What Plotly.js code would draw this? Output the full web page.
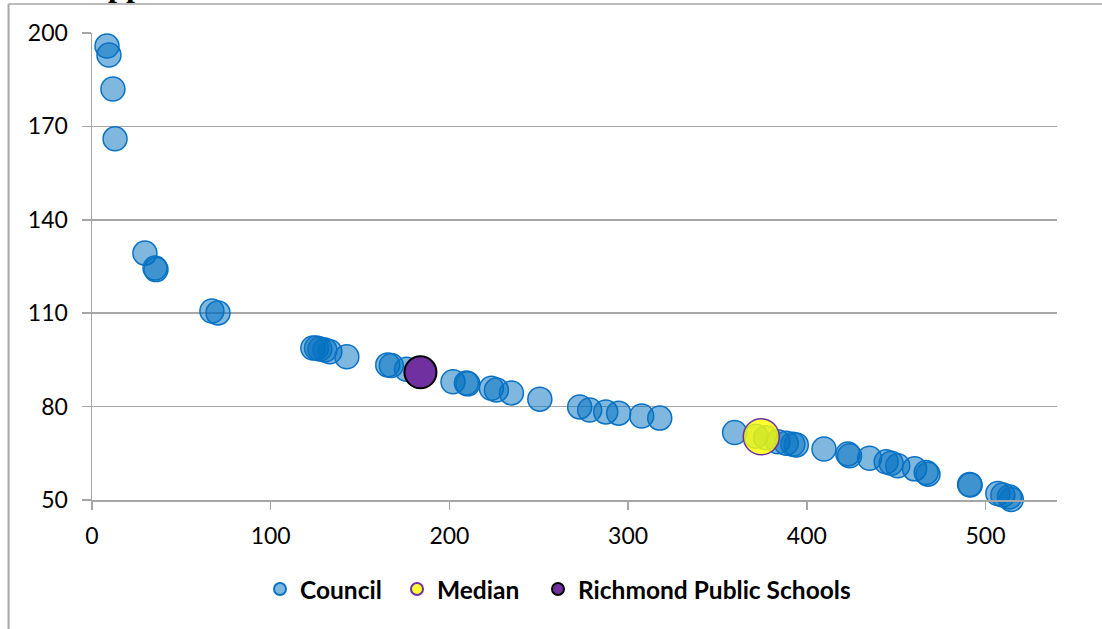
<!DOCTYPE html>
<html>
<head>
<meta charset="utf-8">
<script src="https://cdn.plot.ly/plotly-3.0.1.min.js"></script>
<style>html,body{margin:0;padding:0;background:#fff;}#chart{width:1102px;height:629px;}</style>
</head>
<body>
<div id="chart"></div>
<script>
const councilX = [8.4, 9.5, 11.7, 12.9, 29.6, 35.3, 35.8, 67.1, 70.5, 123.6, 125.6, 127.5, 130.3, 133.1, 142.6, 165.5, 167.5, 176.0, 202.0, 209.5, 210.3, 223.5, 226.3, 234.7, 250.6, 272.9, 278.5, 287.5, 294.7, 307.6, 317.7, 359.6, 371.5, 377.0, 383.8, 388.5, 392.2, 394.1, 409.6, 423.0, 423.9, 435.1, 444.4, 447.2, 450.9, 460.3, 466.8, 467.8, 491.1, 491.4, 506.9, 509.7, 513.4, 514.4];
const councilY = [195.8, 192.9, 182.0, 166.0, 129.3, 124.5, 124.0, 110.7, 110.1, 98.8, 98.8, 98.5, 98.2, 97.6, 96.0, 93.4, 93.2, 92.0, 88.0, 87.6, 87.3, 85.9, 85.3, 84.4, 82.4, 79.9, 78.9, 78.3, 77.9, 77.0, 76.3, 71.7, 70.5, 70.0, 68.7, 68.2, 67.9, 67.7, 66.4, 64.8, 64.2, 63.4, 62.3, 61.8, 61.0, 60.0, 58.8, 58.3, 55.0, 54.8, 52.1, 51.6, 51.0, 50.2];
const medianX = [374.5];
const medianY = [70.3];
const rpsX = [183.8];
const rpsY = [91.0];
const seriesNames = ["Council", "Median", "Richmond Public Schools"];
const xTicks = [0, 100, 200, 300, 400, 500];
const yTicks = [50, 80, 110, 140, 170, 200];

const traces = [
  {x: councilX, y: councilY, name: seriesNames[0], type: 'scatter', mode: 'markers', legend: 'legend', cliponaxis: false,
   marker: {size: 24, color: 'rgba(0,112,192,0.5)', line: {color: '#0a72c4', width: 1.5}}, hoverinfo: 'skip'},
  {x: medianX, y: medianY, name: seriesNames[1], type: 'scatter', mode: 'markers', legend: 'legend2', cliponaxis: false,
   marker: {size: 36, color: 'rgba(255,255,0,0.8)', line: {color: '#7030A0', width: 1.5}}, hoverinfo: 'skip'},
  {x: rpsX, y: rpsY, name: seriesNames[2], type: 'scatter', mode: 'markers', legend: 'legend3', cliponaxis: false,
   marker: {size: 32, color: '#7030A0', line: {color: '#000000', width: 2}}, hoverinfo: 'skip'}
];

const grid = '#a6a6a6';
function leg(xp) {
  return {orientation: 'h', x: (xp - 92) / 965, xanchor: 'left', y: -0.1426, yanchor: 'top',
          font: {family: 'Lato, sans-serif', size: 24.5, weight: 700, color: '#000'},
          itemsizing: 'constant', itemwidth: 30, bgcolor: 'rgba(0,0,0,0)'};
}
const layout = {
  width: 1102, height: 629,
  margin: {l: 92, r: 45, t: 33, b: 129, pad: 0},
  paper_bgcolor: '#ffffff', plot_bgcolor: '#ffffff',
  font: {family: 'Lato, sans-serif', size: 23, color: '#000000'},
  showlegend: true,
  legend: leg(260),
  legend2: leg(397),
  legend3: leg(538),
  xaxis: {range: [0, 540], tickvals: xTicks, ticktext: xTicks.map(String), showgrid: false, zeroline: false,
          showline: true, linecolor: grid, linewidth: 1.5, ticks: 'outside', ticklen: 8, tickcolor: grid, tickwidth: 1.5,
          ticklabelstandoff: 7, tickfont: {size: 23}},
  yaxis: {range: [50, 200], tickvals: yTicks, ticktext: yTicks.map(String), showgrid: true, gridcolor: grid, gridwidth: 1.5,
          zeroline: false, showline: true, linecolor: grid, linewidth: 1.5, ticks: 'outside', ticklen: 9, tickcolor: grid, tickwidth: 1.5,
          ticklabelstandoff: 9, tickfont: {size: 23}},
  shapes: [
    {type: 'line', xref: 'paper', yref: 'paper', x0: -0.0865, x1: 1.05, y0: 1.0621, y1: 1.0621, line: {color: '#a6a6a6', width: 1.5}},
    {type: 'line', xref: 'paper', yref: 'paper', x0: -0.0865, x1: -0.0865, y0: 1.0621, y1: -0.28, line: {color: '#a6a6a6', width: 2}}
  ],
  annotations: [
    {text: 'App', xref: 'paper', yref: 'paper', x: (83 - 92) / 965, y: 1, xanchor: 'left', yanchor: 'bottom', yshift: 28,
     showarrow: false, font: {family: 'Liberation Serif, serif', size: 32, weight: 700, color: '#000'}}
  ]
};
Plotly.newPlot('chart', traces, layout, {displayModeBar: false, staticPlot: true});
</script>
</body>
</html>
